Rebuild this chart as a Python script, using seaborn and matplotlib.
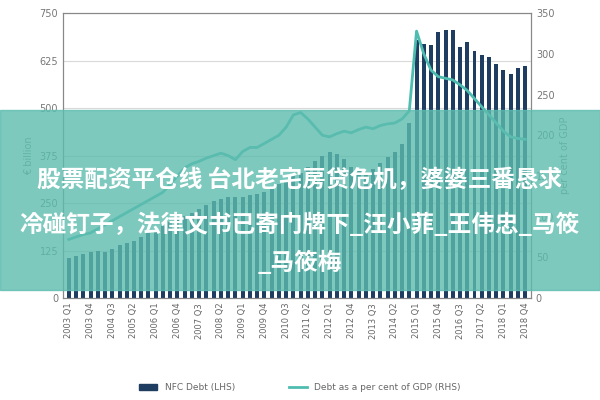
import matplotlib
matplotlib.use("Agg")
import matplotlib.pyplot as plt
from matplotlib import font_manager
import seaborn as sns
import pandas as pd
import numpy as np
from matplotlib.patches import Rectangle, Patch
from matplotlib.lines import Line2D

years = list(range(2003, 2019))
quarters = [f"{y} Q{q}" for y in years for q in range(1, 5)]
nfc_debt = [105,110,115,120, 125,122,128,140, 145,150,160,170, 180,190,200,210,
            215,225,235,245, 255,260,265,265, 265,270,275,280, 290,300,310,320,
            330,345,360,375, 385,380,365,345, 335,330,340,355, 370,385,405,460,
            680,670,665,700, 705,705,660,675, 650,640,635,615, 600,590,605,610]
debt_gdp = [72,75,78,80, 85,90,95,100, 105,110,115,120, 125,130,140,150,
            160,165,168,172, 175,178,175,170, 180,185,185,190, 195,200,210,225,
            228,220,210,200, 198,202,205,203, 207,210,208,212, 214,215,220,230,
            328,300,280,272, 270,268,262,255, 245,235,225,215, 205,198,196,195]
title_lines = ["股票配资平仓线 台北老宅房贷危机，婆婆三番恳求",
               "冷碰钉子，法律文书已寄门牌下_汪小菲_王伟忠_马筱",
               "_马筱梅"]

names = {f.name for f in font_manager.fontManager.ttflist}
cjk = [n for n in ["Noto Sans CJK SC", "Noto Sans CJK JP", "Noto Sans CJK TC", "Noto Sans CJK KR"] if n in names]
cjk_family = cjk + ["DejaVu Sans"]

df = pd.DataFrame({"q": quarters, "debt": nfc_debt, "pct": debt_gdp})
df["x"] = np.arange(len(df))

fig = plt.figure(figsize=(6, 4), dpi=100)
ax = fig.add_axes([0.105, 0.255, 0.78, 0.712])
sns.barplot(data=df, x="x", y="debt", ax=ax, color="#1f3d60", width=0.55, saturation=1, zorder=2)
ax.set_ylim(0, 750)
ax.set_yticks(np.arange(0, 751, 125))
ax.grid(axis="y", color="#d9d9d9", lw=0.8, zorder=0)
ax.set_xlabel("")
ax.set_ylabel("€ billion", color="#888", fontsize=7)
ax.set_xticks(df["x"][::3])
ax.set_xticklabels(df["q"][::3], rotation=90, fontsize=6, color="#666")
ax.tick_params(axis="y", labelsize=7, colors="#777", length=0)
ax.tick_params(axis="x", length=0)
for s in ax.spines.values():
    s.set_color("#888")
ax2 = ax.twinx()
sns.lineplot(data=df, x="x", y="pct", ax=ax2, color="#4fbcb0", lw=2)
ax2.set_ylim(0, 350)
ax2.set_yticks(np.arange(0, 351, 50))
ax2.set_ylabel("per cent of GDP", color="#888", fontsize=7)
ax2.tick_params(axis="y", labelsize=7, colors="#777", length=0)
ax2.set_xlim(-0.8, len(df) - 0.2)
for s in ax2.spines.values():
    s.set_color("#888")

handles = [Patch(color="#1f3d60"), Line2D([0], [0], color="#4fbcb0", lw=2)]
fig.legend(handles, ["NFC Debt (LHS)", "Debt as a per cent of GDP (RHS)"], loc="lower center",
           bbox_to_anchor=(0.5, 0.0), ncol=2, frameon=False, fontsize=6.5, labelcolor="#666",
           columnspacing=6)

fig.patches.append(Rectangle((0, 0.275), 1, 0.45, transform=fig.transFigure,
                             color="#5cbcae", alpha=0.8, zorder=10))
for y, t in zip([0.55, 0.4375, 0.3425], title_lines):
    fig.text(0.5, y, t, ha="center", va="center", fontsize=17, color="white", zorder=11,
             family=cjk_family, weight="bold")
fig.savefig("out.png")
